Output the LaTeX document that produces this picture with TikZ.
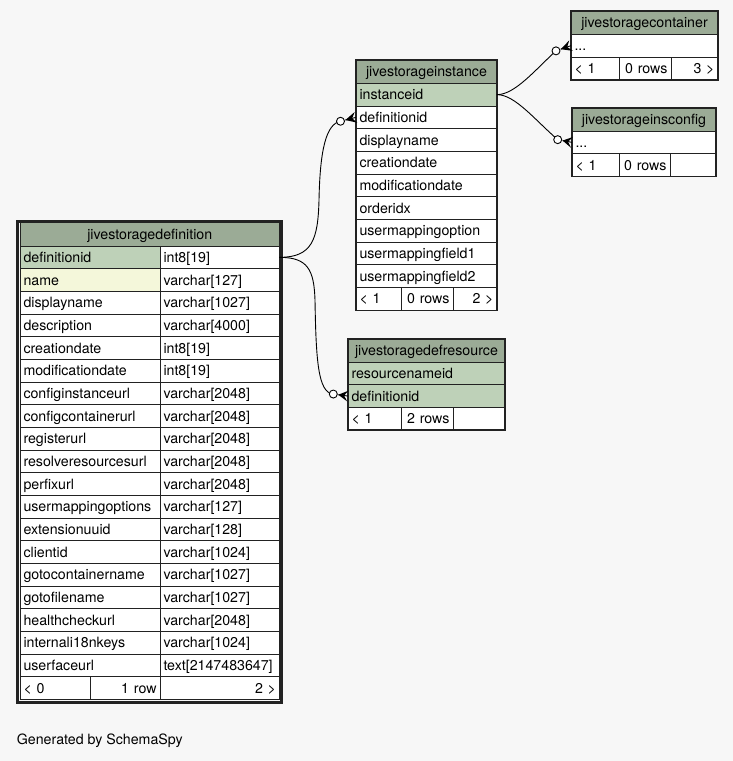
\documentclass[tikz,border=0pt]{standalone}
\usepackage{fontspec}
\setmainfont{TeX Gyre Heros}
\usetikzlibrary{calc}
\definecolor{bgc}{HTML}{F7F7F7}
\definecolor{hdrc}{HTML}{9BAB96}
\definecolor{keyc}{HTML}{BED1B8}
\definecolor{idxc}{HTML}{F4F7DA}
\definecolor{linec}{HTML}{222222}
\newcommand\tabfont{\fontsize{14.2pt}{16pt}\selectfont}
\newcommand\crowodot[2]{%
  \fill[black] ($(#1)!5pt!(#2)$) -- ($(#2)!5.5pt!90:(#1)$) -- ($(#2)!4pt!(#1)$) -- ($(#2)!5.5pt!-90:(#1)$) -- cycle;
  \draw[black, line width=0.9pt] ($(#1)!5pt!(#2)$) -- (#2);
  \draw[black, line width=0.9pt, fill=white] (#1) circle[radius=4pt];
}
\tikzset{
  cell/.style={draw=linec, line width=0.9pt, fill=white, inner xsep=3.5pt, inner ysep=0pt,
    minimum height=#1, text height=11pt, text depth=1pt, anchor=north west, font=\tabfont, outer sep=0pt},
  cell/.default=22.7pt,
  lcell/.style={cell, text width=#1, align=left},
  rcell/.style={cell, text width=#1, align=right},
  hcell/.style={cell=23.5pt, fill=hdrc, text width=#1, align=center},
  conn/.style={draw=black, line width=0.9pt},
  frame/.style={draw=linec, line width=1.4pt},
}
\begin{document}
\begin{tikzpicture}[x=1pt,y=-1pt]
\useasboundingbox (0,0) rectangle (733,761);
\fill[bgc] (0,0) rectangle (733,761);

% ---------- jivestoragedefinition ----------
\node[hcell=252.5pt, minimum height=23.5pt] (dh) at (20,222.5) {jivestoragedefinition};
\foreach \cn/\ct/\cf [count=\i] in {
  definitionid/int8[19]/keyc,
  name/varchar[127]/idxc,
  displayname/varchar[1027]/white,
  description/varchar[4000]/white,
  creationdate/int8[19]/white,
  modificationdate/int8[19]/white,
  configinstanceurl/varchar[2048]/white,
  configcontainerurl/varchar[2048]/white,
  registerurl/varchar[2048]/white,
  resolveresourcesurl/varchar[2048]/white,
  perfixurl/varchar[2048]/white,
  usermappingoptions/varchar[127]/white,
  extensionuuid/varchar[128]/white,
  clientid/varchar[1024]/white,
  gotocontainername/varchar[1027]/white,
  gotofilename/varchar[1027]/white,
  healthcheckurl/varchar[2048]/white,
  internali18nkeys/varchar[1024]/white,
  userfaceurl/text[2147483647]/white}{
  \node[lcell=133pt, fill=\cf] (dn\i) at (20,{246+(\i-1)*22.675}) {\cn};
  \node[lcell=112.5pt] (dt\i) at (160,{246+(\i-1)*22.675}) {\ct};
}
\node[lcell=63pt] (df1) at (20,676.8) {< 0};
\node[rcell=63pt] (df2) at (90,676.8) {1 row};
\node[rcell=112.5pt] (df3) at (160,676.8) {2 >};
\draw[linec, line width=3pt] (17.5,221) rectangle (281.5,702);

% ---------- jivestorageinstance ----------
\node[hcell=134pt, minimum height=23.3pt] (ih) at (356,60) {jivestorageinstance};
\foreach \cn/\cf [count=\i] in {
  instanceid/keyc, definitionid/white, displayname/white, creationdate/white,
  modificationdate/white, orderidx/white, usermappingoption/white,
  usermappingfield1/white, usermappingfield2/white}{
  \node[lcell=134pt, fill=\cf] (i\i) at (356,{83.3+(\i-1)*22.7}) {\cn};
}
\node[lcell=38pt] (if1) at (356,287.6) {< 1};
\node[rcell=45pt] (if2) at (401,287.6) {0 rows};
\node[rcell=37pt] (if3) at (453,287.6) {2 >};
\draw[frame] (ih.north west) rectangle (if3.south east);

% ---------- jivestoragedefresource ----------
\node[hcell=150pt, minimum height=23pt] (rh) at (348,339) {jivestoragedefresource};
\node[lcell=150pt, fill=keyc] (r1) at (348,362) {resourcenameid};
\node[lcell=150pt, fill=keyc] (r2) at (348,384.7) {definitionid};
\node[lcell=46pt] (rf1) at (348,407.4) {< 1};
\node[rcell=45pt] (rf2) at (401,407.4) {2 rows};
\node[rcell=45pt] (rf3) at (453,407.4) {};
\draw[frame] (rh.north west) rectangle (rf3.south east);

% ---------- jivestoragecontainer ----------
\node[hcell=140pt, minimum height=23.3pt] (ch) at (571,11) {jivestoragecontainer};
\node[lcell=140pt] (c1) at (571,34.3) {...};
\node[lcell=41pt] (cf1) at (571,57.1) {< 1};
\node[rcell=45pt] (cf2) at (619,57.1) {0 rows};
\node[rcell=40pt] (cf3) at (671,57.1) {3 >};
\draw[frame] (ch.north west) rectangle (cf3.south east);

% ---------- jivestorageinsconfig ----------
\node[hcell=137pt, minimum height=23pt] (sh) at (572,108) {jivestorageinsconfig};
\node[lcell=137pt] (s1) at (572,131) {...};
\node[lcell=40pt] (sf1) at (572,153.8) {< 1};
\node[rcell=44pt] (sf2) at (619,153.8) {0 rows};
\node[rcell=39pt] (sf3) at (670,153.8) {};
\draw[frame] (sh.north west) rectangle (sf3.south east);

% ---------- connectors ----------
\coordinate (o1) at ($(i2.west)+(-15.5,3.9)$);
\coordinate (o2) at ($(r2.west)+(-14.7,-2)$);
\coordinate (o3) at ($(c1.west)+(-15,5.2)$);
\coordinate (o4) at ($(s1.west)+(-14.3,-2.7)$);

\draw[conn] (dt1.east) .. controls (312,257.3) and (318,240) .. (319,200)
   .. controls (320,150) and (326,124) .. (o1);
\draw[conn] (dt1.east) .. controls (308,257.3) and (314,270) .. (315,300)
   .. controls (316,360) and (318,393) .. (o2);
\draw[conn] (i1.east) .. controls (515,94.6) and (535,70) .. (o3);
\draw[conn] (i1.east) .. controls (515,94.6) and (535,120) .. (o4);

\crowodot{o1}{i2.west}
\crowodot{o2}{r2.west}
\crowodot{o3}{c1.west}
\crowodot{o4}{s1.west}

\node[font=\tabfont, anchor=base west, inner sep=0pt] (gen) at (16.7,744) {Generated by SchemaSpy};
\end{tikzpicture}
\end{document}
